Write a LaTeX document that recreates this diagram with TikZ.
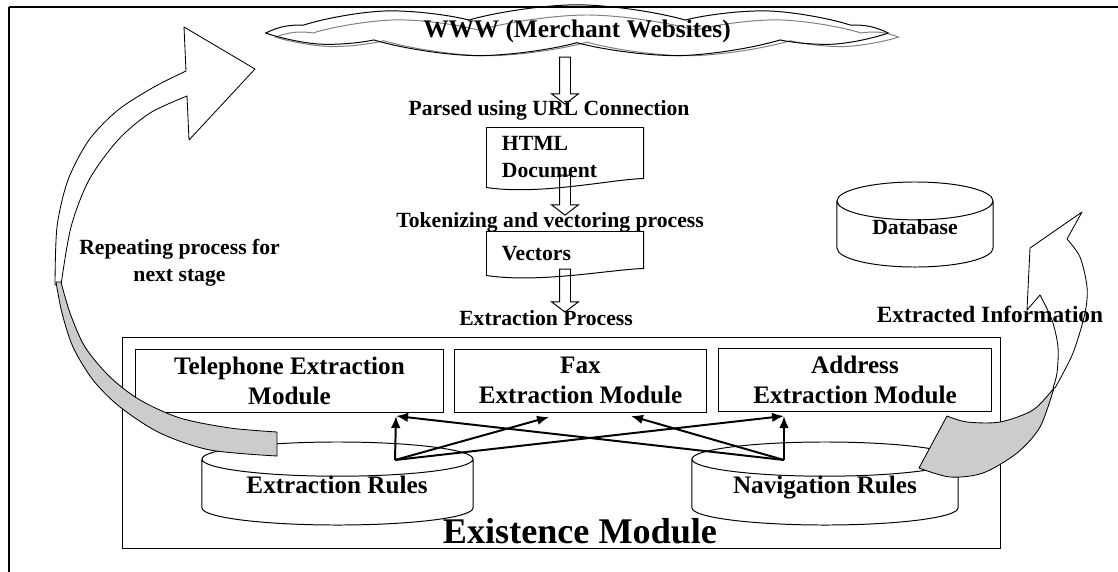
\documentclass[tikz,border=0pt]{standalone}
\usepackage{fontspec}
\setmainfont{Liberation Serif}
\usepackage{tikz}
\usetikzlibrary{shapes,positioning,arrows.meta}

\newcommand{\lblfont}{\fontsize{15.4}{19.2}\selectfont\bfseries}
\newcommand{\boxfont}{\fontsize{17.9}{21.3}\selectfont\bfseries}
\newcommand{\wwwfont}{\fontsize{18}{21}\selectfont\bfseries}
\newcommand{\infofont}{\fontsize{16.6}{20}\selectfont\bfseries}
\newcommand{\bigfont}{\fontsize{25.7}{30}\selectfont\bfseries}

\begin{document}
\begin{tikzpicture}[x=0.025cm, y=-0.025cm, line width=0.7pt,
        module/.style={draw, align=center, inner sep=0pt, minimum height=1.575cm, font=\boxfont},
        drum/.style={cylinder, shape border rotate=90, draw, fill=white, inner sep=0pt, anchor=shape center},
        docbox/.style={text width=3.15cm, align=left, inner xsep=0.375cm, inner ysep=0pt, font=\lblfont},
        blockarrow/.style={single arrow, draw, rotate=-90, inner xsep=0pt, inner ysep=0.125cm, single arrow head extend=0.2cm, single arrow tip angle=105},
        caption/.style={align=center, inner sep=0pt, font=\lblfont},
        puffs/.style={cloud, cloud puffs=9, cloud puff arc=32, aspect=14, minimum width=14.875cm, minimum height=1.05cm, inner sep=0pt}
    ]
    \useasboundingbox (0,0) rectangle (1118,572);

    %styles
    \tikzstyle{link}=[->,>={Latex[length=0.3cm,width=0.24cm]},line width=1.4pt]
    \tikzstyle{band}=[line width=0.6pt, line join=round]

    %frame
    \draw[line width=0.8pt] (9,7) -- (1118,7);
    \draw[line width=0.8pt] (9,7) -- (9,572);

    %flow
    \node[puffs, draw=gray] (wwwshade) at (587,36) {};
    \node[puffs, draw, font=\wwwfont] (www) at (577,31) {WWW (Merchant Websites)};
    \node[blockarrow, minimum height=1.175cm] (arr1) at (565,78.5) {};
    \node[caption] (parsed) at (549,110) {Parsed using URL Connection};
    \node[docbox, minimum height=1.475cm] (html) at (565,157.5) {HTML\\Document};
    \draw (html.north west) -- (html.north east) -- ([yshift=0.225cm]html.south east)
        .. controls ([xshift=-0.825cm,yshift=0.2cm]html.south east) and ([xshift=1.325cm,yshift=-0.2cm]html.south west) .. (html.south west) -- cycle;
    \node[blockarrow, minimum height=1cm] (arr2) at (565,193) {};
    \node[caption] (token) at (550,222) {Tokenizing and vectoring process};
    \node[docbox, minimum height=1.075cm] (vec) at (565,253.5) {Vectors};
    \draw (vec.north west) -- (vec.north east) -- ([yshift=0.175cm]vec.south east)
        .. controls ([xshift=-0.825cm,yshift=0.15cm]vec.south east) and ([xshift=1.325cm,yshift=-0.2cm]vec.south west) .. (vec.south west) -- cycle;
    \node[blockarrow, minimum height=1.075cm] (arr3) at (565,288.5) {};
    \node[caption] (xproc) at (546,318) {Extraction Process};

    \node[drum, text width=2.2cm, aspect=0.43, minimum width=3.9cm, minimum height=2.125cm] (db) at (915,224.5) {};
    \node[caption] (dbtext) at (915,227) {Database};

    %existence module
    \node[draw, minimum width=21.925cm, minimum height=5.25cm] (exist) at (561.5,443) {};
    \node[module, minimum width=7.675cm] (tel) at (289.5,380.5) {Telephone Extraction\\Module};
    \node[module, minimum width=6.275cm] (fax) at (580.5,380.5) {Fax\\Extraction Module};
    \node[module, minimum width=6.8cm] (adr) at (855,380) {Address\\Extraction Module};
    \node[drum, text width=4.5cm, aspect=0.19, minimum width=6.775cm, minimum height=2.075cm] (xrules) at (337.5,483.5) {};
    \node[font=\boxfont, inner sep=0pt, anchor=base] (xrtext) at (337,493) {Extraction Rules};
    \node[drum, text width=4.5cm, aspect=0.19, minimum width=6.65cm, minimum height=2.075cm] (nrules) at (825,483.5) {};
    \node[font=\boxfont, inner sep=0pt, anchor=base] (nrtext) at (825,493) {Navigation Rules};
    \node[font=\bigfont, inner sep=0pt] (existlbl) at (580,531) {Existence Module};

    %arrows
    \coordinate (xr-top) at (395,460);
    \coordinate (nr-top) at (784,460);
    \coordinate (tel-in) at (396,416);
    \coordinate (fax-in1) at (549,417);
    \coordinate (fax-in2) at (631,416);
    \coordinate (adr-in) at (784,416);
    \draw[link] (xr-top) -- (tel-in);
    \draw[link] (xr-top) -- (fax-in1);
    \draw[link] (xr-top) -- (adr-in);
    \draw[link] (nr-top) -- (adr-in);
    \draw[link] (nr-top) -- (fax-in2);
    \draw[link] (nr-top) -- (tel-in);

    %repeating arrow
    \draw[band, fill=white] plot[smooth] coordinates {(55,285) (57,227) (68,180) (89,140) (118,110) (154,87) (186,71)}
        -- (184,27) -- (255,69) -- (189,140) -- (187,96)
        -- plot[smooth] coordinates {(187,96) (150,113) (118,140) (89,180) (71,227) (61,285)} -- cycle;
    \draw[band, fill=gray!40] plot[smooth] coordinates {(56,282) (62,313) (73,347) (93,380) (120,407) (160,433) (210,450) (277,456)}
        -- (277,432)
        -- plot[smooth] coordinates {(277,432) (230,428) (180,418) (140,400) (110,377) (85,347) (70,313) (61,282)} -- cycle;
    \node[caption] (repeat) at (179.5,262.5) {Repeating process for\\next stage};

    %extracted arrow
    \draw[band, fill=white] plot[smooth] coordinates {(1055,388) (1073,353) (1085,313) (1087,287) (1080,257) (1067,239)}
        -- (1082,212) -- (1030,248) -- (1027,310) -- (1040,295)
        -- plot[smooth] coordinates {(1040,295) (1052,320) (1058,347) (1057,373) (1053,388)} -- cycle;
    \draw[band, fill=gray!40] plot[smooth] coordinates {(1054,388) (1033,410) (1000,422) (967,422) (947,416)}
        -- (919,468)
        -- plot[smooth] coordinates {(919,468) (950,477) (983,473) (1017,453) (1040,427) (1054,388)} -- cycle;
    \node[font=\infofont, inner sep=0pt] (info) at (990,314) {Extracted Information};

\end{tikzpicture}
\end{document}
